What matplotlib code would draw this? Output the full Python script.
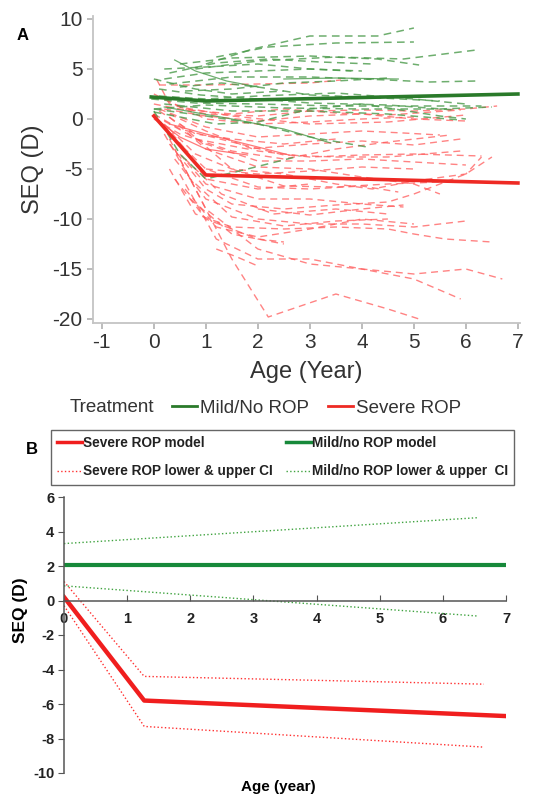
import matplotlib
matplotlib.use("Agg")
import matplotlib.pyplot as plt
from matplotlib.lines import Line2D

plt.rcParams['font.family'] = ['Liberation Sans', 'DejaVu Sans']
plt.rcParams['axes.unicode_minus'] = False

W, H = 536, 798

# ---- Panel A : trajectoires individuelles (age en annees, SEQ en D)
green_paths = [
    [(1.0, 5.5), (1.9, 7.0), (3.0, 8.3), (4.3, 8.3), (5.0, 9.1)],
    [(1.2, 6.2), (2.2, 7.2), (3.5, 7.6), (5.0, 7.7)],
    [(0.8, 5.0), (2.0, 5.8), (3.5, 6.2), (4.8, 6.0), (6.2, 6.9)],
    [(0.5, 5.5), (1.5, 6.1), (3.0, 6.3), (4.3, 6.0), (5.1, 5.4)],
    [(0.3, 3.5), (1.5, 4.2), (3.0, 4.2), (4.5, 3.9), (5.3, 3.7), (6.2, 3.8)],
    [(0.0, 1.0), (1.0, 1.4), (2.5, 1.1), (4.0, 1.0), (5.5, 1.0), (6.5, 1.2)],
    [(0.2, 1.5), (1.5, 0.8), (3.0, 0.8), (4.5, 0.5), (5.9, -0.1)],
    [(0.0, 1.0), (1.0, 0.3), (2.0, -0.5), (3.0, -1.8), (4.1, -2.8)],
    [(0.2, 4.0), (1.0, 4.6), (2.0, 4.8), (3.0, 5.0), (4.0, 4.8)],
    [(0.0, 0.8), (0.5, -3.5), (1.0, -6.0), (1.8, -5.0), (2.8, -3.7)],
    [(0.0, 4.0), (0.8, 3.0), (1.5, 2.5), (2.5, 2.8)],
    [(0.1, 2.3), (1.0, 2.0), (2.0, 2.3), (3.5, 2.6), (5.0, 2.0), (6.0, 1.5)],
    [(0.2, 5.0), (1.0, 5.2), (2.0, 5.5), (3.0, 5.0), (3.8, 4.8)],
    [(0.5, 3.2), (1.3, 3.6), (2.0, 3.2), (3.0, 2.4), (4.0, 2.2), (5.5, 1.8)],
    [(0.0, 0.7), (1.2, -0.5), (2.0, -0.3), (3.0, 1.0), (4.0, 1.5), (5.5, 0.3), (6.0, 0.0)],
    [(-0.05, 2.0), (0.8, 1.6), (2.0, 1.5), (3.5, 1.3), (5.0, 1.3), (6.3, 1.3)],
    [(0.6, 2.8), (1.5, 3.0), (2.5, 3.6), (3.5, 3.8), (4.5, 4.1)],
    [(0.3, 4.6), (1.2, 5.6), (2.2, 6.0), (3.2, 5.7), (4.2, 5.5)],
    [(0.1, 3.0), (0.9, 2.4), (2.0, 2.0), (3.0, 1.6), (4.5, 1.4), (5.8, 0.9)],
]
green_solid_paths = [
    [(0.4, 5.9), (0.8, 4.8), (1.4, 3.8), (2.0, 3.2)],
    [(0.2, 1.2), (1.5, 0.0), (2.5, -1.0), (3.4, -2.4)],
    [(2.5, 4.0), (3.5, 4.1), (4.7, 4.0)],
]
red_paths = [
    [(0.1, 3.4), (1.0, 3.4), (2.0, 3.5), (3.0, 3.6), (3.6, 3.9)],
    [(0.05, 4.0), (0.3, 1.5), (1.0, 0.5), (2.0, 0.3), (3.0, 0.8), (4.0, 0.9), (5.0, 0.8), (6.0, 1.0), (6.6, 1.3)],
    [(0.0, 1.5), (0.5, 1.0), (1.5, 0.5), (2.5, 1.0), (3.5, 0.6), (4.5, 0.4), (5.9, 0.9)],
    [(0.2, 2.0), (1.0, 0.0), (2.0, -0.5), (3.0, -0.3), (4.0, 0.0), (5.0, 0.2)],
    [(0.1, 1.0), (1.0, -0.8), (2.0, -1.8), (3.0, -1.5), (4.0, -1.2), (4.8, -1.4), (5.5, -1.6)],
    [(0.0, 0.5), (0.5, -1.0), (1.5, -2.3), (2.5, -3.6), (3.5, -3.8), (4.5, -3.8), (5.9, -3.2)],
    [(0.2, -0.2), (1.0, -2.5), (2.0, -4.2), (3.0, -4.2), (4.0, -4.0), (5.0, -4.3), (6.0, -4.6)],
    [(0.3, 0.2), (1.0, -3.0), (2.0, -4.8), (3.0, -5.0), (4.0, -5.8), (5.0, -6.5), (5.5, -7.5)],
    [(0.3, -1.0), (0.8, -3.5), (1.5, -5.0), (2.5, -5.5), (3.5, -6.5), (4.2, -7.0), (5.0, -6.2), (6.0, -5.5), (6.3, -3.8)],
    [(0.4, -2.0), (1.0, -5.0), (2.0, -6.8), (3.0, -7.0), (4.0, -6.7), (4.7, -7.3)],
    [(0.5, -3.5), (1.0, -6.5), (2.0, -8.0), (3.0, -8.0), (4.0, -8.5), (4.8, -8.8)],
    [(0.3, -2.5), (1.0, -7.0), (1.5, -8.5), (2.5, -9.0), (3.5, -8.6), (4.5, -8.3), (5.0, -7.5), (6.0, -5.5), (6.5, -3.8)],
    [(0.4, -4.0), (1.0, -8.0), (2.0, -10.0), (3.0, -10.5), (4.0, -10.5), (5.0, -10.8), (6.0, -10.2)],
    [(0.3, -5.0), (0.8, -9.5), (1.5, -10.8), (2.5, -11.0), (3.5, -10.8), (4.5, -11.0), (5.0, -11.5), (5.6, -12.0), (6.5, -12.3)],
    [(0.4, -6.0), (1.0, -10.0), (2.0, -12.0), (2.5, -12.3)],
    [(0.6, -7.0), (1.2, -10.8), (2.0, -11.8), (3.0, -11.0), (4.0, -10.0), (5.0, -10.5)],
    [(0.5, -5.5), (1.2, -12.0), (2.0, -14.0), (3.0, -14.0), (4.0, -15.0), (5.0, -15.5), (6.0, -15.0), (6.7, -16.0)],
    [(0.4, -3.0), (1.0, -9.0), (2.0, -13.0), (3.0, -14.5), (4.0, -15.0), (5.0, -16.0), (5.9, -18.0)],
    [(0.3, -2.0), (0.8, -7.0), (1.5, -14.0), (2.2, -19.8), (3.5, -17.5), (4.5, -19.0), (5.1, -20.0)],
    [(0.2, -0.5), (0.6, -3.0), (1.0, -6.0), (2.0, -7.0), (3.0, -6.5)],
    [(0.0, 0.0), (0.5, -1.5), (1.5, -3.2), (2.5, -4.0), (3.5, -3.0), (4.5, -2.3), (5.7, -1.6)],
    [(0.2, 1.0), (1.0, 0.3), (2.0, -0.2), (3.0, 0.3), (4.0, 0.5), (5.0, 0.0), (6.0, -0.2)],
    [(0.1, 0.8), (0.8, -1.5), (1.5, -2.0), (2.5, -2.5), (3.5, -2.0)],
    [(0.5, -0.5), (1.5, -5.0), (2.5, -6.7), (3.5, -6.8), (4.5, -6.5), (5.5, -6.3)],
    [(0.6, -4.0), (1.3, -7.5), (2.3, -9.5), (3.5, -9.0), (4.5, -9.5)],
    [(0.2, -1.5), (0.7, -6.0), (1.5, -9.8), (2.5, -10.7), (3.5, -10.2), (4.5, -10.0)],
    [(1.0, -5.0), (2.0, -5.5), (3.0, -5.2), (4.0, -4.8), (5.0, -5.0)],
    [(0.8, -2.0), (1.8, -3.0), (3.0, -2.5), (4.0, -2.2), (5.0, -2.6), (5.9, -2.0)],
    [(0.3, 0.5), (1.0, -1.2), (2.0, -3.2), (3.0, -3.8), (4.0, -3.6), (5.0, -3.5), (6.3, -3.7)],
    [(0.7, -8.0), (1.5, -11.5), (2.5, -12.5)],
    [(0.0, 2.5), (0.5, 1.2), (1.5, 0.3), (3.0, -0.5), (4.5, -0.3), (6.0, 0.4)],
    [(1.2, -13.0), (1.6, -13.8), (2.0, -14.7)],
    [(2.0, -9.0), (3.0, -9.6), (4.0, -9.0), (4.8, -8.6)],
]
red_solid_paths = [
    [(0.0, 0.2), (0.5, -1.8), (1.0, -3.0), (1.8, -3.6)],
    [(0.3, -0.5), (1.0, -1.5), (2.0, -2.8), (2.6, -3.6)],
]

green_mean_x = [-0.05, 1.0, 7.0]
green_mean_y = [2.2, 1.8, 2.5]
red_mean_x = [0.0, 1.0, 7.0]
red_mean_y = [0.3, -5.6, -6.4]

# ---- Panel B : modeles et intervalles de confiance
sev_x = [0.0, 1.27, 7.0]
sev_model = [0.2, -5.8, -6.7]
sev_ci_x = [0.0, 1.27, 6.65]
sev_upper = [1.1, -4.4, -4.85]
sev_lower = [-0.3, -7.3, -8.5]
mild_x = [0.0, 7.0]
mild_model = [2.05, 2.05]
mild_ci_x = [0.0, 6.55]
mild_upper = [3.3, 4.8]
mild_lower = [0.85, -0.9]


def px_axes(left, top, right, bottom):
    return fig.add_axes([left / W, 1 - bottom / H, (right - left) / W, (bottom - top) / H])


fig = plt.figure(figsize=(W / 100, H / 100), dpi=100)

# ================= Panel A
axA = px_axes(93, 16, 520, 323)
c_gd = '#4a9a4a'
c_rd = '#ff5a5a'
for p in red_paths:
    xs, ys = zip(*p)
    axA.plot(xs, ys, color=c_rd, lw=1.0, ls=(0, (5, 3.5)), alpha=0.75)
for p in red_solid_paths:
    xs, ys = zip(*p)
    axA.plot(xs, ys, color=c_rd, lw=0.9, alpha=0.8)
for p in green_paths:
    xs, ys = zip(*p)
    axA.plot(xs, ys, color=c_gd, lw=1.1, ls=(0, (5, 3.5)), alpha=0.8)
for p in green_solid_paths:
    xs, ys = zip(*p)
    axA.plot(xs, ys, color=c_gd, lw=0.9, alpha=0.8)
axA.plot(green_mean_x, green_mean_y, color='#2a7a2a', lw=2.6)
axA.plot(red_mean_x, red_mean_y, color='#ee2a24', lw=2.6)

axA.set_xlim(-1.17, 7.04)
axA.set_ylim(-20.4, 10.3)
axA.set_xticks(range(-1, 8))
axA.set_yticks(range(-20, 11, 5))
for s in ['top', 'right']:
    axA.spines[s].set_visible(False)
for s in ['left', 'bottom']:
    axA.spines[s].set_color('#c4c4c4')
    axA.spines[s].set_linewidth(1.3)
axA.tick_params(colors='#b0b0b0', labelcolor='#333333', labelsize=15, length=4, width=1.2)
axA.set_xlabel('Age (Year)', fontsize=17, color='#333333', labelpad=6)
axA.set_ylabel('SEQ (D)', fontsize=17, color='#333333', labelpad=6)

fig.text(23 / W, 1 - 35 / H, 'A', fontsize=12, fontweight='bold', ha='center', va='center')

# legende du panneau A
fig.text(70 / W, 1 - 408 / H, 'Treatment', fontsize=13.5, color='#333333', ha='left', va='center')
hA = [Line2D([], [], color='#2a7a2a', lw=2), Line2D([], [], color='#ee2a24', lw=2)]
fig.legend(hA, ['Mild/No ROP', 'Severe ROP'], loc='center left',
           bbox_to_anchor=(172 / W, 1 - 408 / H), ncol=2, frameon=False,
           fontsize=13.5, handlelength=1.35, handletextpad=0.15, columnspacing=1.0,
           labelcolor='#333333', borderaxespad=0, borderpad=0)

# ================= Panel B
axB = px_axes(64, 497, 506, 773)
axB.plot(mild_ci_x, mild_upper, color='#3fa33f', lw=1.0, ls=':')
axB.plot(mild_ci_x, mild_lower, color='#3fa33f', lw=1.0, ls=':')
axB.plot(sev_ci_x, sev_upper, color='#ff3030', lw=1.0, ls=':')
axB.plot(sev_ci_x, sev_lower, color='#ff3030', lw=1.0, ls=':')
axB.plot(mild_x, mild_model, color='#17893a', lw=3)
axB.plot(sev_x, sev_model, color='#f01e1e', lw=3.2)

axB.set_xlim(0, 7)
axB.set_ylim(-10, 6)
axB.set_xticks(range(0, 8))
axB.set_yticks(range(-10, 7, 2))
for s in ['top', 'right']:
    axB.spines[s].set_visible(False)
axB.spines['bottom'].set_position(('data', 0))
for s in ['left', 'bottom']:
    axB.spines[s].set_color('#555555')
    axB.spines[s].set_linewidth(1.1)
axB.tick_params(axis='y', direction='out', length=4, color='#555555', labelsize=10.5, pad=3)
axB.tick_params(axis='x', direction='in', length=4, color='#555555', labelsize=10.5, pad=8)
for lab in axB.get_xticklabels() + axB.get_yticklabels():
    lab.set_fontweight('bold')
    lab.set_color('#222222')
fig.text(278 / W, 1 - 787 / H, 'Age (year)', fontsize=11, fontweight='bold', ha='center', va='center')
fig.text(21 / W, 1 - 610 / H, 'SEQ (D)', fontsize=12.5, fontweight='bold', rotation=90,
         ha='center', va='center')
fig.text(32 / W, 1 - 450 / H, 'B', fontsize=12, fontweight='bold', ha='center', va='center')

hB = [Line2D([], [], color='#f01e1e', lw=2.5),
      Line2D([], [], color='#ff3030', lw=1, ls=':'),
      Line2D([], [], color='#17893a', lw=2.5),
      Line2D([], [], color='#3fa33f', lw=1, ls=':')]
labB = ['Severe ROP model', 'Severe ROP lower & upper CI',
        'Mild/no ROP model', 'Mild/no ROP lower & upper  CI']
legB = fig.legend(hB, labB, loc='upper left', bbox_to_anchor=(51 / W, 1 - 430 / H), ncol=2,
                  fontsize=9.8, handlelength=1.8, handletextpad=0.1, columnspacing=1.0,
                  labelspacing=1.05, borderpad=0.45, borderaxespad=0, fancybox=False,
                  edgecolor='#666666', framealpha=1)
legB.get_frame().set_linewidth(1.0)
for t in legB.get_texts():
    t.set_fontweight('bold')
    t.set_color('#222222')

fig.savefig('out.png', dpi=100)
